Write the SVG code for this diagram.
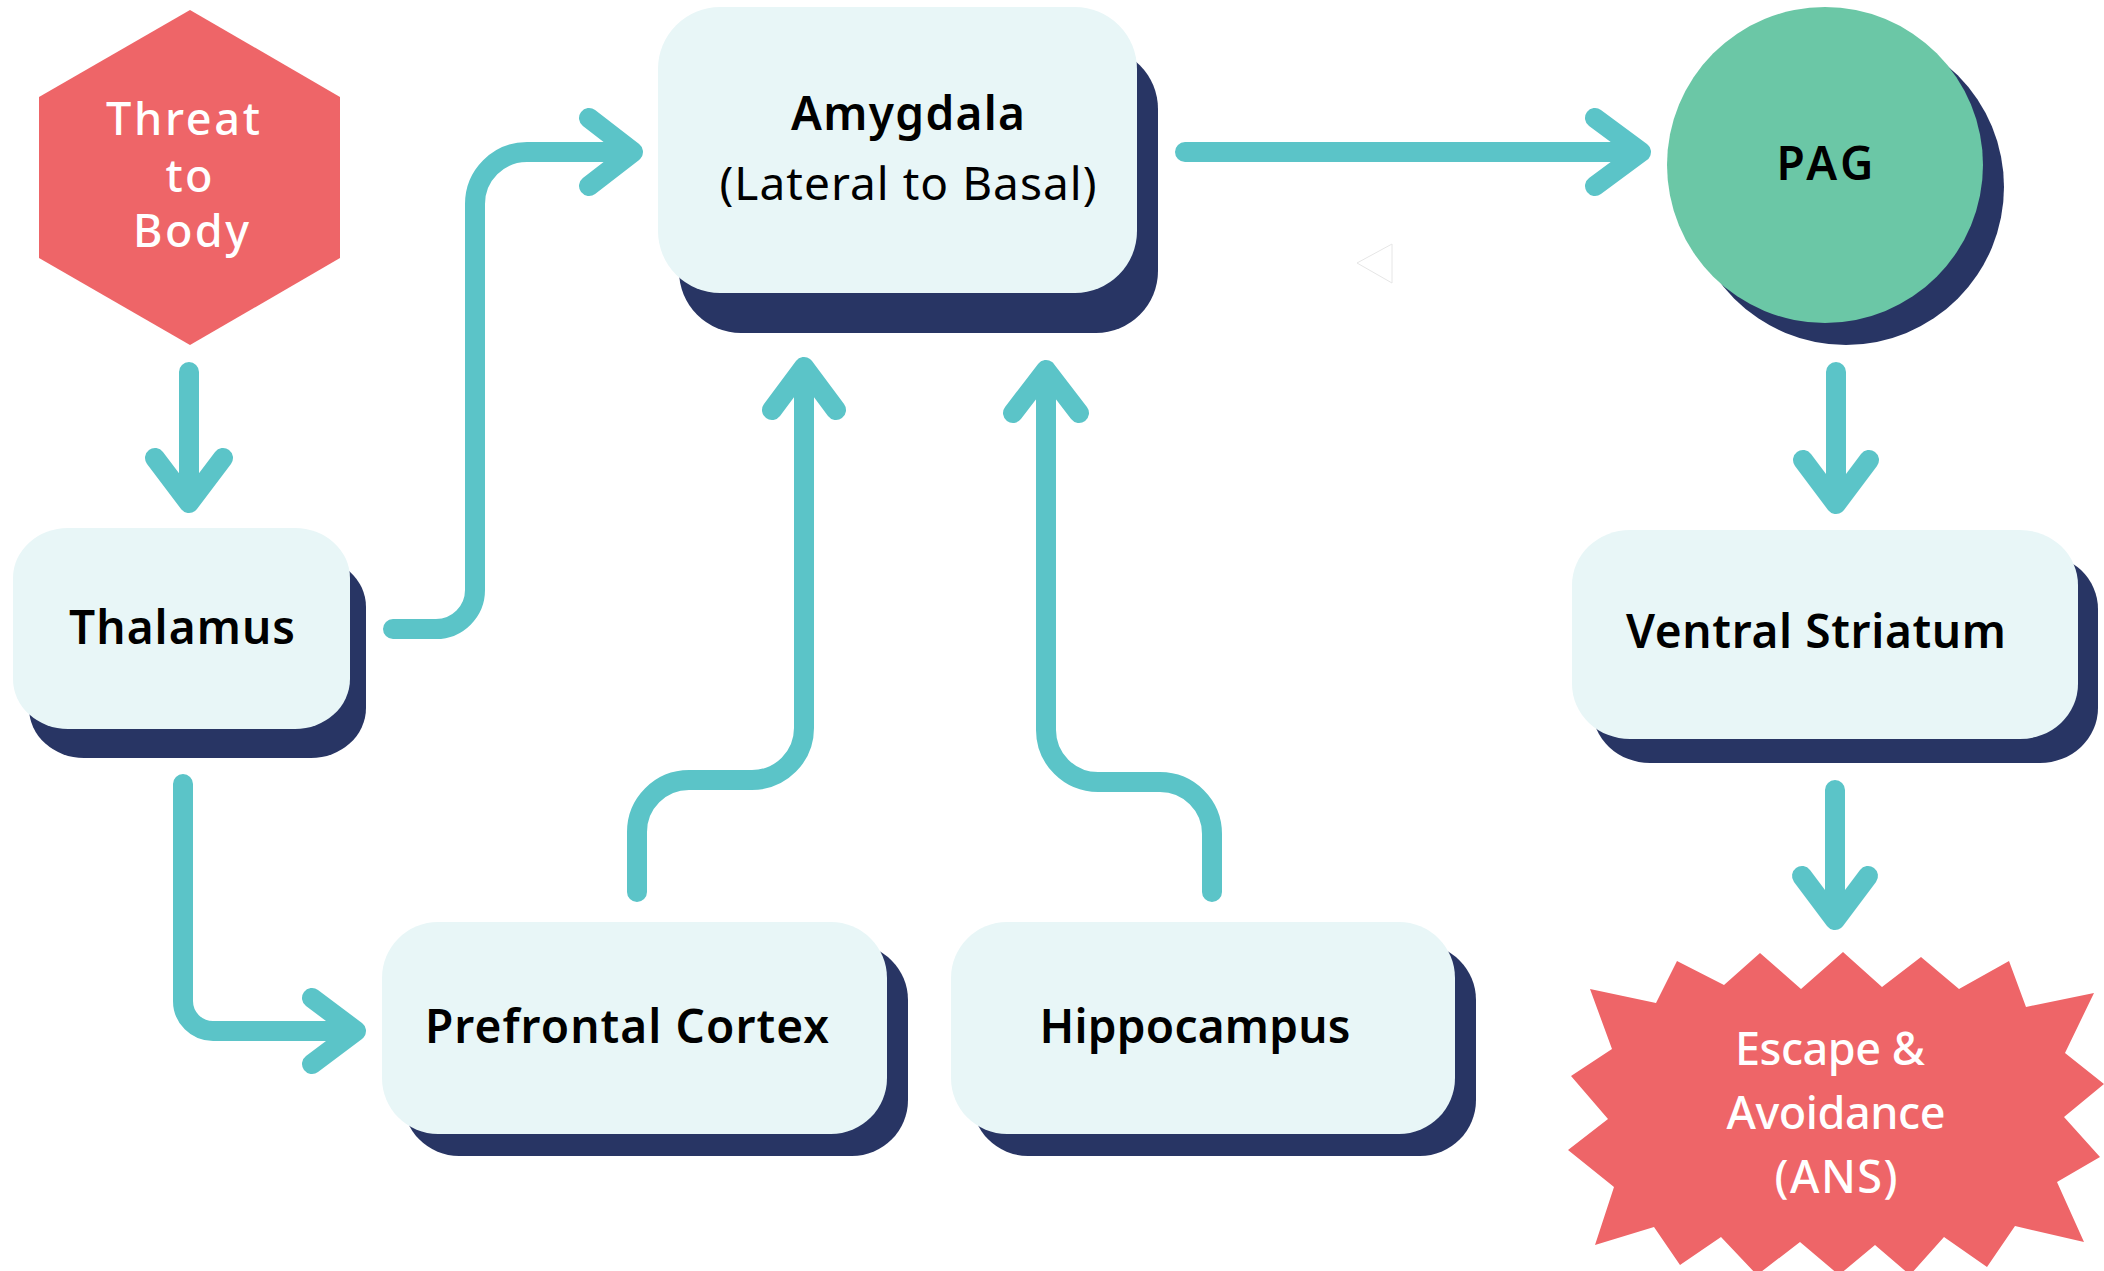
<svg xmlns="http://www.w3.org/2000/svg" width="2104" height="1271" viewBox="0 0 2104 1271">
  <style>
    .box { fill: #E8F6F7; }
    .shadow { fill: #283564; }
    .alert { fill: #EE6568; }
    .label { font-family: "Noto Sans", "Open Sans", sans-serif; font-size: 46px; font-weight: 600; fill: #000; text-anchor: middle; }
    .sub { font-weight: 400; }
    .light { fill: #fff; font-size: 45px; font-weight: 500; }
    .wire { fill: none; stroke: #5BC4C8; stroke-width: 20; stroke-linecap: round; stroke-linejoin: round; }
  </style>

  <rect width="2104" height="1271" fill="#fff"/>

  <!-- Connectors -->
  <g id="connectors">
    <!-- Threat to Body -> Thalamus -->
    <path class="wire" d="M189 372 V503 M155 458 L189 503 L223 458"/>
    <!-- Thalamus -> Amygdala -->
    <path class="wire" d="M393 629 H436 A39 39 0 0 0 475 590 V204 A52 52 0 0 1 527 152 H633 M589 118 L633 152 L589 186"/>
    <!-- Thalamus -> Prefrontal Cortex -->
    <path class="wire" d="M183 784 V1001 A30 30 0 0 0 213 1031 H356 M312 998 L356 1031 L312 1064"/>
    <!-- Prefrontal Cortex -> Amygdala -->
    <path class="wire" d="M637 892 V832 A52 52 0 0 1 689 780 H752 A52 52 0 0 0 804 728 V367 M772 410 L804 367 L836 410"/>
    <!-- Hippocampus -> Amygdala -->
    <path class="wire" d="M1212 892 V834 A52 52 0 0 0 1160 782 H1098 A52 52 0 0 1 1046 730 V370 M1013 413 L1046 370 L1079 413"/>
    <!-- Amygdala -> PAG -->
    <path class="wire" d="M1185 152 H1641 M1595 118 L1641 152 L1595 186"/>
    <!-- PAG -> Ventral Striatum -->
    <path class="wire" d="M1836 372 V504 M1803 460 L1836 504 L1869 460"/>
    <!-- Ventral Striatum -> Escape & Avoidance -->
    <path class="wire" d="M1835 790 V920 M1802 876 L1835 920 L1868 876"/>
  </g>

  <!-- faint outlined triangle -->
  <polygon points="1357,263 1392,244 1392,283" fill="#fff" stroke="#e6e6e6" stroke-width="1"/>

  <g id="threat">
    <polygon class="alert" points="190,10 340,97 340,258 190,345 39,258 39,97"/>
    <text class="label light" x="183" y="135" textLength="154">Threat</text>
    <text class="label light" x="189" y="192" textLength="47">to</text>
    <text class="label light" x="191" y="247" textLength="116">Body</text>
  </g>

  <g id="thalamus">
    <rect class="shadow" x="29" y="557" width="337" height="201" rx="55" ry="50"/>
    <rect class="box" x="13" y="528" width="337" height="201" rx="55" ry="50"/>
    <text class="label" x="182" y="644" textLength="226">Thalamus</text>
  </g>

  <g id="amygdala">
    <rect class="shadow" x="679" y="47" width="479" height="286" rx="62" ry="62"/>
    <rect class="box" x="658" y="7" width="479" height="286" rx="62" ry="62"/>
    <text class="label" x="908" y="130" textLength="234">Amygdala</text>
    <text class="label sub" x="908" y="200" textLength="377">(Lateral to Basal)</text>
  </g>

  <g id="pag">
    <circle class="shadow" cx="1846" cy="187" r="158"/>
    <circle cx="1825" cy="165" r="158" fill="#6BC7A6"/>
    <text class="label" x="1825" y="180" textLength="97">PAG</text>
  </g>

  <g id="ventral-striatum">
    <rect class="shadow" x="1592" y="554" width="506" height="209" rx="58" ry="55"/>
    <rect class="box" x="1572" y="530" width="506" height="209" rx="58" ry="55"/>
    <text class="label" x="1816" y="648" textLength="380">Ventral Striatum</text>
  </g>

  <g id="prefrontal-cortex">
    <rect class="shadow" x="403" y="944" width="505" height="212" rx="56" ry="56"/>
    <rect class="box" x="382" y="922" width="505" height="212" rx="56" ry="56"/>
    <text class="label" x="627" y="1043" textLength="404">Prefrontal Cortex</text>
  </g>

  <g id="hippocampus">
    <rect class="shadow" x="972" y="944" width="504" height="212" rx="56" ry="56"/>
    <rect class="box" x="951" y="922" width="504" height="212" rx="56" ry="56"/>
    <text class="label" x="1195" y="1043" textLength="311">Hippocampus</text>
  </g>

  <g id="escape-avoidance">
    <polygon class="alert" points="1677,961 1724,985 1760,953 1801,989 1843,952 1882,987 1921,957 1959,989 2009,961 2026,1007 2094,993 2065,1053 2104,1084 2064,1117 2100,1157 2057,1182 2084,1242 2015,1226 1987,1267 1944,1237 1910,1275 1875,1245 1839,1275 1800,1242 1757,1275 1721,1237 1680,1265 1654,1227 1595,1245 1614,1187 1568,1150 1608,1119 1571,1076 1612,1049 1590,989 1656,1003"/>
    <text class="label light" x="1830" y="1065" textLength="190">Escape &amp;</text>
    <text class="label light" x="1836" y="1129" textLength="219">Avoidance</text>
    <text class="label light" x="1836" y="1193" textLength="123">(ANS)</text>
  </g>
</svg>
